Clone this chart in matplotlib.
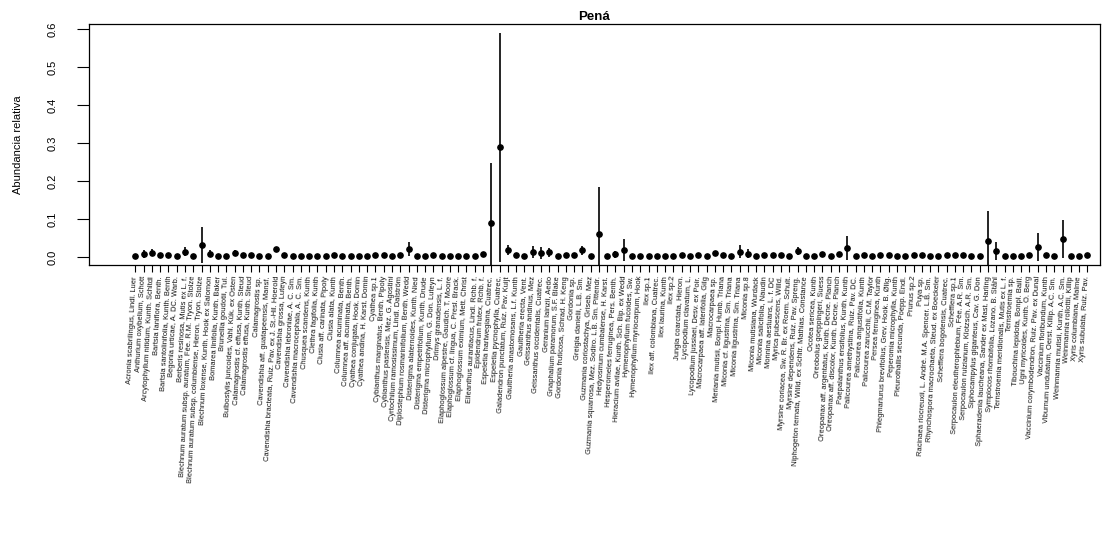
import matplotlib
matplotlib.use("Agg")
import matplotlib.pyplot as plt

plt.rcParams['font.family'] = ['Liberation Sans', 'DejaVu Sans']

especies = [
    "Acronia scabrilingus, Lindl. Luer",
    "Anthurium oxybelium, Schott",
    "Arcytophyllum nitidum, Kunth. Schltdl",
    "Bartsia laniflora, Benth.",
    "Bartsia santolinifolia, Kunth. Benth",
    "Begonia urticae, A. DC. Warb.",
    "Berberis resinosa, Mutis ex L. f.",
    "Blechnum auratum subsp. auratum, Fée. R.M. Tryon. Stolze",
    "Blechnum auratum subsp. columbiense, Hieron. Tryon. Stolze",
    "Blechnum loxense, Kunth. Hook ex Salomon",
    "Bomarea linifolia, Kunth. Baker",
    "Brunellia goudotii, Tul.",
    "Bulbostylis juncoides, Vahl. Kük. ex Osten",
    "Calamagrostis cf. effusa, Kunth. Steud",
    "Calamagrostis effusa, Kunth. Steud",
    "Calamagrostis sp.",
    "Cavendishia aff. guatapeensis, Mansf.",
    "Cavendishia bracteata, Ruiz. Pav. ex J. St.-Hil. Hoerold",
    "Cavendishia grossa, Luteyn",
    "Cavendishia lebroniae, A. C. Sm.",
    "Cavendishia macrocephala, A. C. Sm.",
    "Chusquea scandens, Kunth",
    "Clethra fagifolia, Kunth",
    "Clusia aff. carinata, Pipoly",
    "Clusia alata, Kunth",
    "Columnea acuminata, Benth.",
    "Columnea aff. acuminata, Benth.",
    "Cyathea conjugata, Hook. Domin",
    "Cyathea andina, H. Karst. Domin",
    "Cyathea sp.1",
    "Cybianthus marginatus, Benth. Pipoly",
    "Cybianthus pastensis, Mez. G. Agostini",
    "Cyrtochilum ramosissimum, Lindl. Dalström",
    "Diplostephium rosmarinifolium, Benth. Wedd",
    "Disterigma alaternoides, Kunth. Nied",
    "Disterigma empetrifolium, Kunth. Drude",
    "Disterigma microphyllum, G. Don. Luteyn",
    "Drimys granadensis, L. f.",
    "Elaphoglossum alpestre, Gaudich. T. Moore",
    "Elaphoglossum cf. lingua, C. Presl. Brack.",
    "Elaphoglossum eximium, Mett. Christ",
    "Elleanthus aurantiacus, Lindl. Rchb. f.",
    "Epidendrum frutex, Rchb. f.",
    "Espeletia hartwegiana, Cuatrec.",
    "Espeletia pycnophylla, Cuatrec.",
    "Galadendron punctatum, Ruiz. Pav. Kuijt",
    "Gaultheria anastomosans, L.f. Kunth",
    "Gaultheria erecta, Vent.",
    "Geissanthus andinus, Mez",
    "Geissanthus occidentalis, Cuatrec.",
    "Geranium lainzii, Aedo",
    "Gnaphalium paramorum, S.F. Blake",
    "Gordonia fruticosa, Schrad. H. Keng",
    "Gordonia sp.",
    "Greigia danielii, L.B. Sm.",
    "Guzmania coriostachya, Griseb. Mez",
    "Guzmania squarrosa, Mez. Sodiro. L.B. Sm. Pittendr.",
    "Hedyosmum cumbalense, H. Karst.",
    "Hesperomeles ferruginea, Pers. Benth.",
    "Hieracium avilae, Kunth. Sch. Bip. ex Wedd",
    "Hymenophyllum fucoides, Sw.",
    "Hymenophyllum myriocarpum, Hook",
    "Ilex sp.1",
    "Ilex aff. colombiana, Cuatrec.",
    "Ilex laurina, Kunth",
    "Ilex sp.2",
    "Jungia coarctata, Hieron.",
    "Lycopodium clavatum, L.",
    "Lycopodium jussiaei, Desv. ex Poir.",
    "Macrocarpaea aff. laterifolia, Gilg",
    "Macrocarpaea sp.",
    "Meriania mutisii, Bonpl. Humb. Triana",
    "Miconia cf. ligustrina, Sm. Triana",
    "Miconia ligustrina, Sm. Triana",
    "Miconia sp.8",
    "Miconia mutisiana, Wurdack",
    "Miconia salicifolia, Naudin",
    "Monnina aestuans, L. f. DC",
    "Myrica pubescens, Willd.",
    "Myrsine coriacea, Sw. R. Br. ex Roem. Schult.",
    "Myrsine dependens, Ruiz. Pav. Spreng.",
    "Niphogeton ternata, Willd. ex Schltr. Mathias. Constance",
    "Ocotea sericea, Kunth",
    "Oreobolus goeppingeri, Suess",
    "Oreopanax aff. argentatus, Kunth. Decne. Planch",
    "Oreopanax aff. discolor, Kunth. Decne. Planch",
    "Paepalanthus ensifolius, Kunth. Kunth",
    "Palicourea amethystina, Ruiz. Pav. DC.",
    "Palicourea angustifolia, Kunth",
    "Palicourea zarucchii, C.M. Taylor",
    "Persea ferruginea, Kunth",
    "Phlegmariurus brevifolius, Grev. Hook. B. Øllg.",
    "Peperomia microphylla, Kunth",
    "Pleurothallis secunda, Poepp. Endl.",
    "Prunus sp.2",
    "Puya sp.",
    "Racinaea riocreuxii, L. André. M.A. Spencer. L.B. Sm.",
    "Rhynchospora macrochaeta, Steud. ex Boeckeler",
    "Schefflera bogotensis, Cuatrec.",
    "Schefflera sp.1",
    "Serpocaulon eleutherophlebium, Fée. A.R. Sm.",
    "Serpocaulon ruizianum, Klotzsch. A.R. Sm.",
    "Siphocampylus giganteus, Cav. G. Don",
    "Sphaeradenia laucheana, Sander ex Mast. Harling",
    "Symplocos rhombifolia, Lozano. B. Ståhl",
    "Ternstroemia meridionalis, Mutis ex L. f.",
    "Ternstroemia sp.",
    "Tibouchina lepidota, Bonpl. Baill.",
    "Ugni myricoides, Kunth. O. Berg",
    "Vaccinium corymbodendron, Ruiz. Pav. ex Dunal",
    "Vaccinium floribundum, Kunth",
    "Viburnum undulatum, Oerst. Killip. A.C. Sm.",
    "Weinmannia mutisii, Kunth. A.C. Sm.",
    "Weinmannia rollottii, Killip",
    "Xyris columbiana, Malme",
    "Xyris subulata, Ruiz. Pav.",
]

media = [
    0.003, 0.008, 0.011, 0.004, 0.004, 0.003, 0.014, 0.003, 0.032, 0.008,
    0.003, 0.003, 0.011, 0.006, 0.004, 0.003, 0.003, 0.020, 0.004, 0.003,
    0.003, 0.003, 0.003, 0.003, 0.006, 0.003, 0.003, 0.003, 0.003, 0.006,
    0.006, 0.003, 0.006, 0.021, 0.003, 0.003, 0.005, 0.003, 0.003, 0.002,
    0.003, 0.002, 0.007, 0.090, 0.288, 0.018, 0.004, 0.003, 0.014, 0.010,
    0.012, 0.003, 0.004, 0.004, 0.017, 0.003, 0.061, 0.003, 0.007, 0.017,
    0.003, 0.003, 0.003, 0.003, 0.003, 0.003, 0.004, 0.003, 0.006, 0.003,
    0.010, 0.005, 0.003, 0.014, 0.008, 0.003, 0.005, 0.005, 0.005, 0.003,
    0.016, 0.003, 0.003, 0.008, 0.003, 0.008, 0.023, 0.003, 0.005, 0.003,
    0.005, 0.005, 0.003, 0.003, 0.006, 0.005, 0.003, 0.002, 0.006, 0.004,
    0.004, 0.002, 0.002, 0.042, 0.016, 0.003, 0.003, 0.003, 0.004, 0.025,
    0.004, 0.003, 0.047, 0.003, 0.003, 0.004,
]

desv = [
    0.000, 0.011, 0.009, 0.000, 0.000, 0.000, 0.012, 0.000, 0.048, 0.009,
    0.000, 0.000, 0.008, 0.004, 0.000, 0.000, 0.000, 0.006, 0.000, 0.000,
    0.000, 0.000, 0.000, 0.000, 0.000, 0.000, 0.000, 0.000, 0.000, 0.005,
    0.005, 0.000, 0.004, 0.019, 0.000, 0.000, 0.000, 0.000, 0.000, 0.000,
    0.000, 0.000, 0.006, 0.157, 0.301, 0.014, 0.005, 0.000, 0.016, 0.015,
    0.011, 0.000, 0.007, 0.007, 0.012, 0.000, 0.124, 0.000, 0.009, 0.029,
    0.000, 0.000, 0.000, 0.000, 0.000, 0.000, 0.000, 0.000, 0.004, 0.000,
    0.000, 0.000, 0.000, 0.017, 0.012, 0.000, 0.000, 0.006, 0.006, 0.000,
    0.011, 0.000, 0.000, 0.004, 0.000, 0.005, 0.032, 0.000, 0.003, 0.000,
    0.003, 0.003, 0.000, 0.000, 0.004, 0.000, 0.000, 0.000, 0.004, 0.000,
    0.000, 0.000, 0.000, 0.079, 0.024, 0.000, 0.000, 0.000, 0.000, 0.037,
    0.000, 0.000, 0.050, 0.000, 0.000, 0.000,
]

x = list(range(len(especies)))

fig = plt.figure(figsize=(11.12, 5.33), dpi=100)
ax = fig.add_axes([0.080, 0.503, 0.909, 0.452])

ax.errorbar(x, media, yerr=desv, fmt='o', color='black', ms=3.8,
            elinewidth=1.2, capsize=0)

ax.set_xlim(-5.6, 116.5)
ax.set_ylim(-0.021, 0.613)
ax.set_yticks([0.0, 0.1, 0.2, 0.3, 0.4, 0.5, 0.6])
ax.set_yticklabels(["0.0", "0.1", "0.2", "0.3", "0.4", "0.5", "0.6"],
                   rotation=90, va='center', fontsize=8)
ax.set_xticks(x)
ax.set_xticklabels(especies, rotation=87, ha='right', va='center',
                   rotation_mode='anchor', fontsize=5.4, color='#111111')
ax.tick_params(axis='y', length=8.5, width=0.8, pad=14)
ax.tick_params(axis='x', length=5, width=0.8, pad=3)
for s in ax.spines.values():
    s.set_linewidth(0.9)

ax.set_ylabel("Abundancia relativa", fontsize=8, labelpad=18)
ax.set_title("Pená", fontsize=9.5, fontweight='bold', pad=3)

fig.savefig("out.png", dpi=100)
